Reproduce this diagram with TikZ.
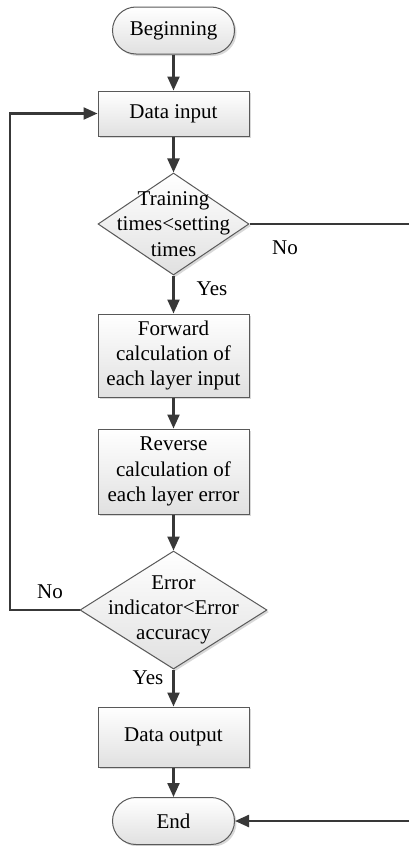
\documentclass[tikz,border=0pt]{standalone}
\usepackage{fontspec}
\setmainfont{Liberation Serif}
\usetikzlibrary{arrows.meta,shapes.geometric,shadows}

\begin{document}
\begin{tikzpicture}[x=0.5pt, y=-0.5pt, >={Triangle[length=7pt,width=6pt]},
    font=\fontsize{10.5}{12.6}\selectfont,
    flow/.style={draw=black!65, line width=0.5pt, top color=white, bottom color=black!12,
      drop shadow={shadow xshift=1pt, shadow yshift=-1pt, fill=black!30, opacity=0.5}},
    box/.style={flow, rectangle, minimum width=75.5pt, align=center, inner sep=2pt},
    term/.style={flow, rectangle, rounded corners=11.75pt, minimum width=61pt, minimum height=23.5pt},
    decision/.style={flow, diamond, inner sep=0pt},
    conn/.style={draw=black!78, line width=1.15pt}]

    \useasboundingbox (0,0) rectangle (409,846);

    \node[term] (begin) at (173.5,30.5) {Beginning};
    \node[box, minimum height=22.5pt] (input) at (173.5,113.5) {Data input};

    \node[decision, minimum width=75.5pt, minimum height=51pt] (train) at (173.5,224) {};
    \node[align=center] (traintext) at (train) {Training\\times<setting\\times};

    \node[box, minimum height=41.5pt] (forward) at (173.5,355.5)
      {Forward\\calculation of\\each layer input};
    \node[box, minimum height=42.5pt] (reverse) at (173.5,471.5)
      {Reverse\\calculation of\\each layer error};

    \node[decision, minimum width=93.5pt, minimum height=59pt] (error) at (173.5,610) {};
    \node[align=center] (errortext) at (error) {Error\\indicator<Error\\accuracy};

    \node[box, minimum height=30pt] (output) at (173.5,737) {Data output};
    \node[term] (end) at (173.5,821) {End};

    \draw[conn, ->] (begin) -- (input);
    \draw[conn, ->] (input) -- (train);
    \draw[conn, ->] (train) -- (forward);
    \draw[conn, ->] (forward) -- (reverse);
    \draw[conn, ->] (reverse) -- (error);
    \draw[conn, ->] (error) -- (output);
    \draw[conn, ->] (output) -- (end);

    \coordinate (loop) at (10,610);
    \draw[conn, ->] (error.west) -- (loop) |- (input.west);

    \coordinate (righttop) at (409,224);
    \coordinate (rightbottom) at (409,821);
    \draw[conn] (train.east) -- (righttop);
    \draw[conn, ->] (rightbottom) -- (end.east);

    \node (trainno) at (285,248) {No};
    \node (trainyes) at (212,289) {Yes};
    \node (errorno) at (50,592) {No};
    \node (erroryes) at (148,678) {Yes};
  \end{tikzpicture}
\end{document}
